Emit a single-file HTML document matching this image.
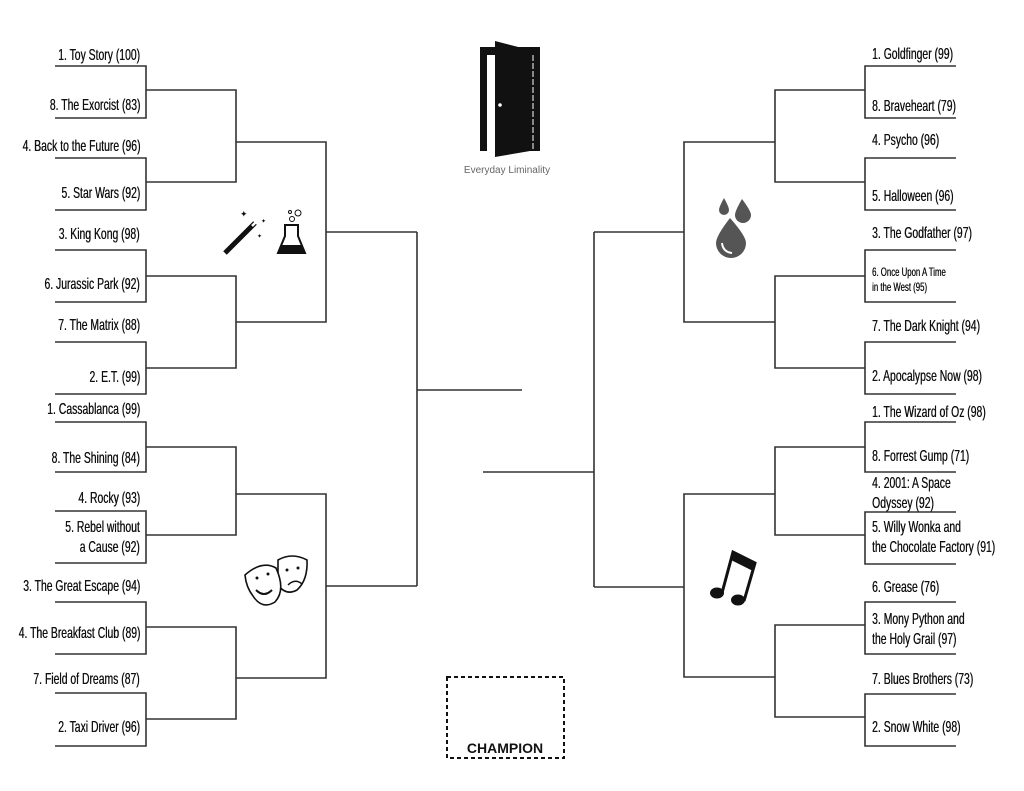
<!DOCTYPE html>
<html><head><meta charset="utf-8"><style>
html,body{margin:0;padding:0;background:#fff}
#c{position:relative;width:1024px;height:791px;overflow:hidden;font-family:"Liberation Sans",sans-serif}
.l,.r{position:absolute;font-size:16px;line-height:20px;color:#111;white-space:nowrap;text-shadow:0.4px 0 0 #111}
.l{right:884px;text-align:right;transform:scaleX(.65);transform-origin:right center}
.r{left:872px;transform:scaleX(.65);transform-origin:left center}
svg{position:absolute;left:0;top:0}
</style></head><body><div id="c">
<svg width="1024" height="791" viewBox="0 0 1024 791">
<g stroke="#333" stroke-width="1.6" fill="none">
<path d="M55 66H146V118H55M55 158H146V210H55M55 250H146V302H55M55 342H146V394H55"/>
<path d="M146 90H236V182H146M146 276H236V368H146"/>
<path d="M236 142H326V322H236M326 232H417"/>
<path d="M55 422H146V472H55M55 511H146V563H55M55 602H146V654H55M55 693H146V746H55"/>
<path d="M146 447H236V535H146M146 627H236V719H146"/>
<path d="M236 494H326V678H236M326 586H417"/>
<path d="M417 232V586M417 390H522"/>
<path d="M956 66H865V118H956M956 158H865V210H956M956 250H865V302H956M956 342H865V394H956"/>
<path d="M865 90H775V182H865M865 276H775V368H865"/>
<path d="M775 142H684V322H775M684 232H594"/>
<path d="M956 422H865V472H956M956 512H865V564H956M956 602H865V654H956M956 694H865V746H956"/>
<path d="M865 447H775V535H865M865 625H775V717H865"/>
<path d="M775 494H684V677H775M684 587H594"/>
<path d="M594 232V587M594 472H483"/>
</g>
<rect x="447" y="677" width="117" height="81" fill="none" stroke="#111" stroke-width="2" stroke-dasharray="4,3"/>
<text x="505" y="753" text-anchor="middle" font-size="14" font-weight="bold" font-family="Liberation Sans,sans-serif" fill="#111">CHAMPION</text>
<rect x="480" y="47" width="60" height="104" fill="#111"/>
<rect x="487" y="55" width="8" height="96" fill="#fff"/>
<polygon points="495,41 530,50 530,151 495,157" fill="#111"/>
<line x1="533" y1="55" x2="533" y2="150" stroke="#fff" stroke-width="1" stroke-dasharray="6,2"/>
<circle cx="500" cy="105" r="1.8" fill="#fff"/>
<text x="507" y="173" text-anchor="middle" font-size="10" fill="#666" font-family="Liberation Sans,sans-serif">Everyday Liminality</text>
<line x1="225" y1="253" x2="255" y2="223" stroke="#111" stroke-width="5"/>
<line x1="252" y1="226" x2="257" y2="221" stroke="#fff" stroke-width="2.5"/>
<text x="240" y="217" font-size="9" fill="#111">✦</text>
<text x="261" y="223" font-size="6" fill="#111">✦</text>
<text x="257" y="238" font-size="6" fill="#111">✦</text>
<path d="M285 225V236L278 253H305L298 236V225Z" fill="none" stroke="#111" stroke-width="2"/>
<path d="M281 245H302L305 253H278Z" fill="#111"/>
<circle cx="292" cy="219" r="2.5" fill="none" stroke="#111"/>
<circle cx="298" cy="213" r="3" fill="none" stroke="#111"/>
<circle cx="290" cy="212" r="1.5" fill="none" stroke="#111"/>
<path d="M724 198Q729 207 729 210A5 5 0 0 1 719 210Q719 207 724 198Z" fill="#555"/>
<path d="M742 199Q751 211 751 215A8 8 0 0 1 735 215Q735 211 742 199Z" fill="#555"/>
<path d="M730 218Q746 236 746 243A15 15 0 0 1 716 243Q716 236 730 218Z" fill="#555"/>
<path d="M722 243Q723 252 732 253" stroke="#fff" stroke-width="2" fill="none"/>
<g fill="#fff" stroke="#111" stroke-width="1.6">
<path d="M278 560Q292 552 307 560Q308 580 297 590Q286 596 278 585Z"/>
<path d="M245 575Q262 560 276 568Q286 590 275 602Q262 610 253 596Q246 587 245 575Z"/>
</g>
<path d="M256 590Q264 598 272 590" stroke="#111" stroke-width="2" fill="none"/>
<path d="M288 585Q295 578 302 584" stroke="#111" stroke-width="1.5" fill="none"/>
<circle cx="257" cy="578" r="1.5" fill="#111"/><circle cx="268" cy="574" r="1.5" fill="#111"/>
<circle cx="287" cy="570" r="1.5" fill="#111"/><circle cx="298" cy="568" r="1.5" fill="#111"/>
<ellipse cx="717" cy="593" rx="7" ry="5.5" fill="#111"/>
<ellipse cx="738" cy="600" rx="7" ry="5.5" fill="#111"/>
<path d="M722 593L733 552L755 563L744 601" stroke="#111" stroke-width="3" fill="none"/>
<path d="M733 552L755 563L753 571L731 560Z" fill="#111"/>
</svg>
<div class="l" style="top:46px">1. Toy Story (100)</div>
<div class="l" style="top:96px">8. The Exorcist (83)</div>
<div class="l" style="top:137px">4. Back to the Future (96)</div>
<div class="l" style="top:184px">5. Star Wars (92)</div>
<div class="l" style="top:225px">3. King Kong (98)</div>
<div class="l" style="top:275px">6. Jurassic Park (92)</div>
<div class="l" style="top:316px">7. The Matrix (88)</div>
<div class="l" style="top:368px">2. E.T. (99)</div>
<div class="l" style="top:400px">1. Cassablanca (99)</div>
<div class="l" style="top:449px">8. The Shining (84)</div>
<div class="l" style="top:489px">4. Rocky (93)</div>
<div class="l" style="top:518px">5. Rebel without<br>a Cause (92)</div>
<div class="l" style="top:577px">3. The Great Escape (94)</div>
<div class="l" style="top:624px">4. The Breakfast Club (89)</div>
<div class="l" style="top:670px">7. Field of Dreams (87)</div>
<div class="l" style="top:718px">2. Taxi Driver (96)</div>
<div class="r" style="top:45px">1. Goldfinger (99)</div>
<div class="r" style="top:97px">8. Braveheart (79)</div>
<div class="r" style="top:131px">4. Psycho (96)</div>
<div class="r" style="top:187px">5. Halloween (96)</div>
<div class="r" style="top:224px">3. The Godfather (97)</div>
<div class="r" style="top:265px;font-size:12px;line-height:15px">6. Once Upon A Time<br>in the West (95)</div>
<div class="r" style="top:317px">7. The Dark Knight (94)</div>
<div class="r" style="top:367px">2. Apocalypse Now (98)</div>
<div class="r" style="top:403px">1. The Wizard of Oz (98)</div>
<div class="r" style="top:447px">8. Forrest Gump (71)</div>
<div class="r" style="top:474px">4. 2001: A Space<br>Odyssey (92)</div>
<div class="r" style="top:518px">5. Willy Wonka and<br>the Chocolate Factory (91)</div>
<div class="r" style="top:578px">6. Grease (76)</div>
<div class="r" style="top:610px">3. Mony Python and<br>the Holy Grail (97)</div>
<div class="r" style="top:670px">7. Blues Brothers (73)</div>
<div class="r" style="top:718px">2. Snow White (98)</div>
</div></body></html>
